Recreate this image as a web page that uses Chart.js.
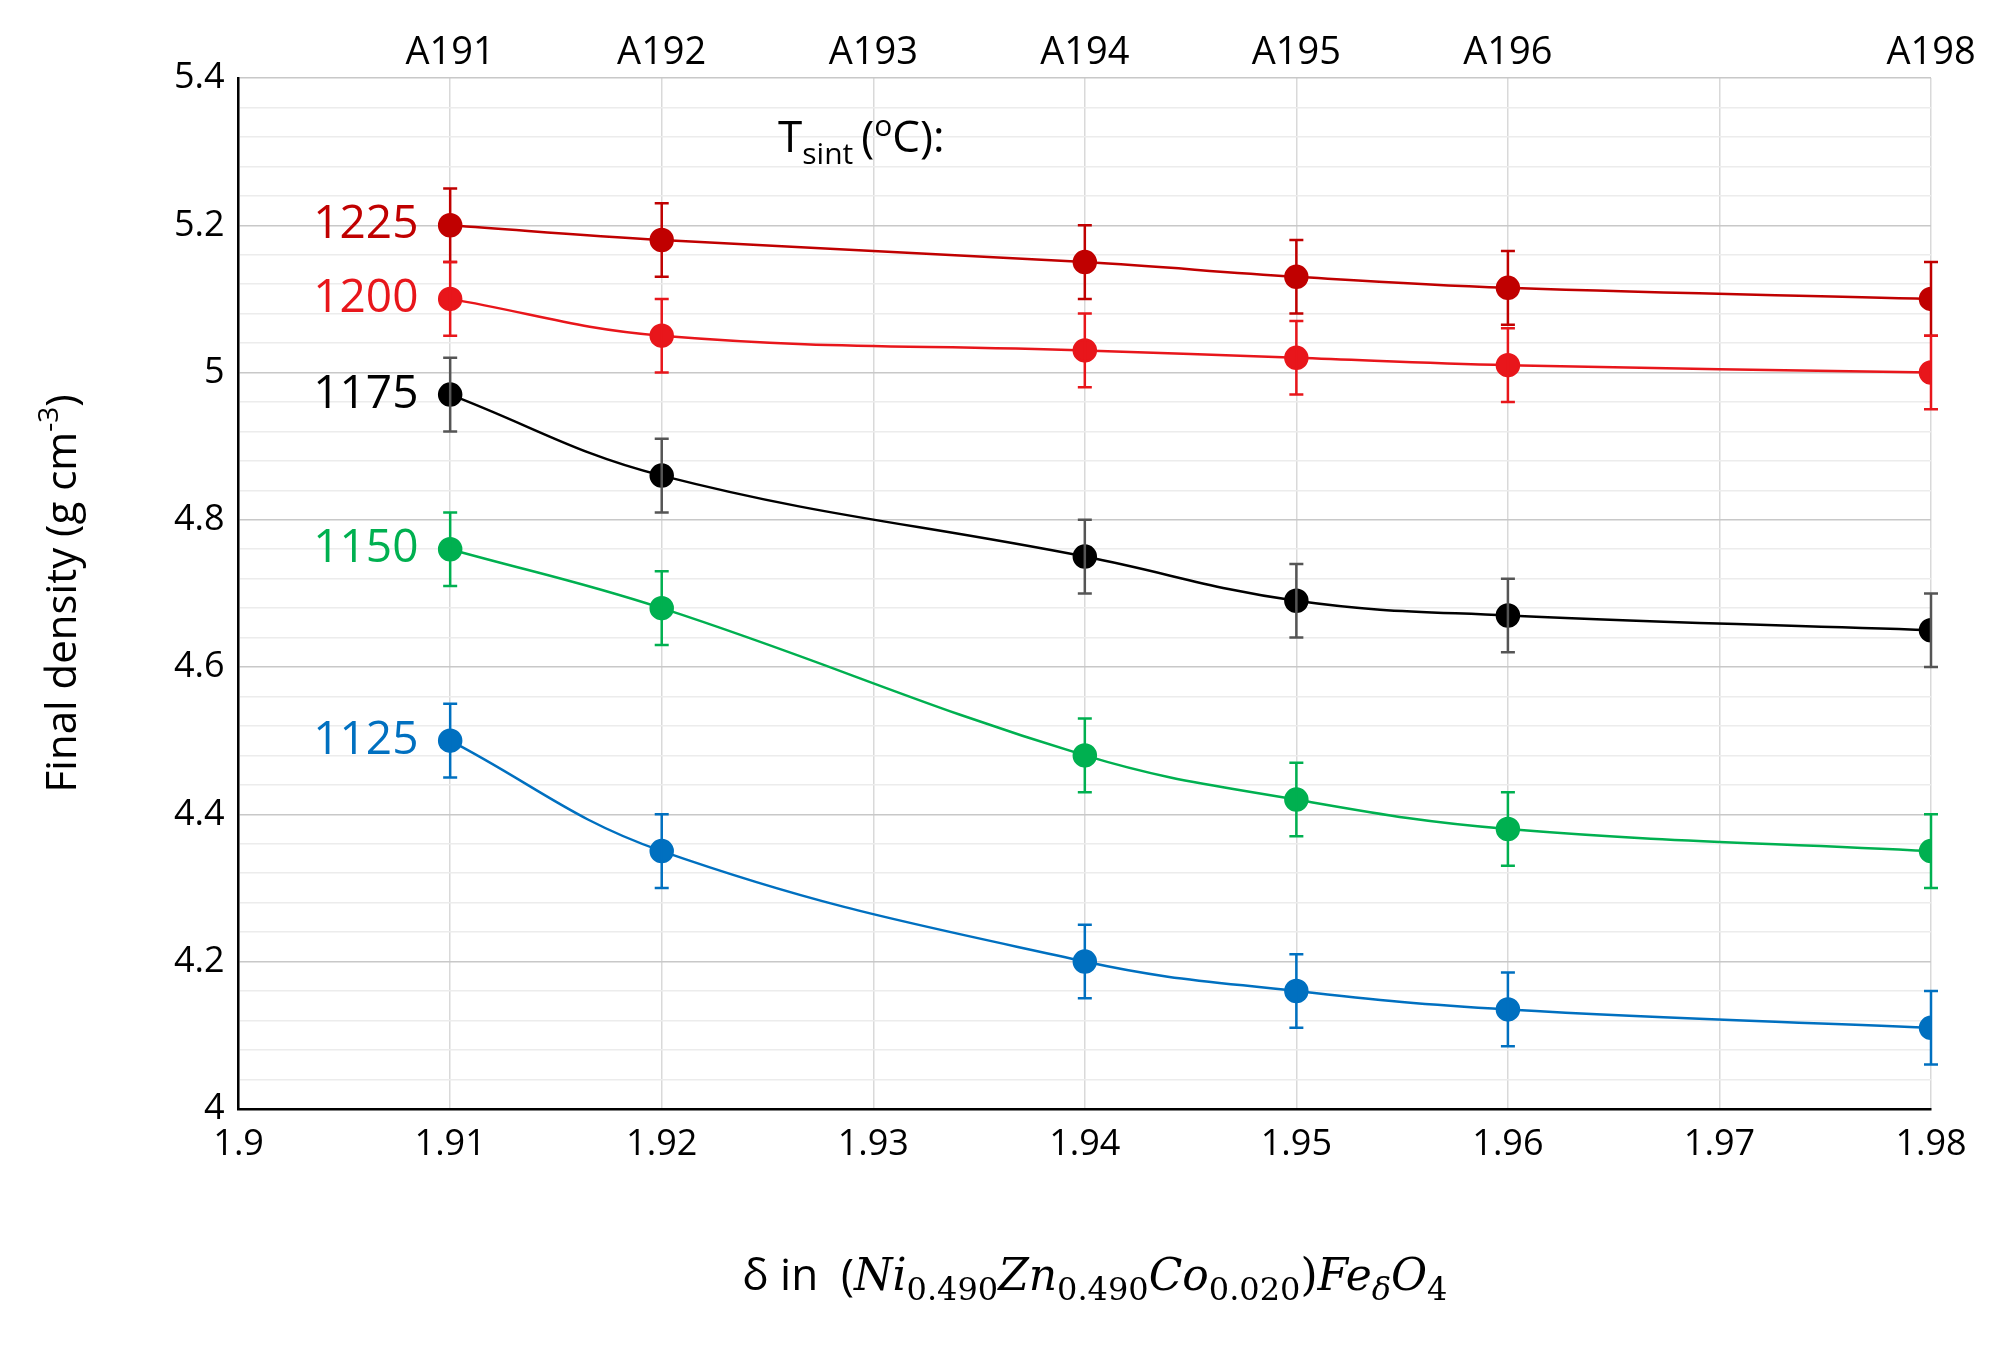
<!DOCTYPE html>
<html><head><meta charset="utf-8">
<script src="https://cdn.jsdelivr.net/npm/chart.js@4"></script>
<style>body{margin:0;background:#fff}canvas{display:block}</style>
</head><body><canvas id="c" width="2004" height="1350"></canvas>
<script>
const deltas=[1.91,1.92,1.94,1.95,1.96,1.98];
const temps=['1225','1200','1175','1150','1125'];
const d1225=[5.20,5.18,5.15,5.13,5.115,5.10];
const d1200=[5.10,5.05,5.03,5.02,5.01,5.00];
const d1175=[4.97,4.86,4.75,4.69,4.67,4.65];
const d1150=[4.76,4.68,4.48,4.42,4.38,4.35];
const d1125=[4.50,4.35,4.20,4.16,4.135,4.11];
const errs=[0.05,0.05,0.05,0.05,0.05,0.05];
const topX=[1.91,1.92,1.93,1.94,1.95,1.96,1.98];
const topLabels=['A191','A192','A193','A194','A195','A196','A198'];
const colors=['#C00000','#E8161B','#000000','#00B050','#0070C0'];
const series=[d1225,d1200,d1175,d1150,d1125];
const F='"Open Sans", "Noto Sans", sans-serif';
const datasets=series.map((s,i)=>({label:temps[i],data:deltas.map((x,j)=>({x,y:s[j]})),borderColor:colors[i],backgroundColor:colors[i],borderWidth:2.5,pointRadius:11,pointHoverRadius:11,tension:0.4}));
const extras={id:'extras',afterDatasetsDraw(ch){
 const c=ch.ctx,xs=ch.scales.x,ys=ch.scales.y;
 c.save();
 series.forEach((s,i)=>{c.strokeStyle=i==2?'#555':colors[i];c.lineWidth=2.5;
  deltas.forEach((x,j)=>{const px=xs.getPixelForValue(x),a=ys.getPixelForValue(s[j]+errs[j]),b=ys.getPixelForValue(s[j]-errs[j]);
   c.beginPath();c.moveTo(px,a);c.lineTo(px,b);c.moveTo(px-7,a);c.lineTo(px+7,a);c.moveTo(px-7,b);c.lineTo(px+7,b);c.stroke();});});
 c.font='46px '+F;c.textAlign='right';c.textBaseline='middle';
 const ly=[5.2,5.1,4.97,4.76,4.5];
 series.forEach((s,i)=>{c.fillStyle=colors[i];c.fillText(temps[i],xs.getPixelForValue(1.9085),ys.getPixelForValue(ly[i]));});
 c.fillStyle='#000';c.font='38px '+F;c.textAlign='center';c.textBaseline='alphabetic';
 topX.forEach((x,i)=>c.fillText(topLabels[i],xs.getPixelForValue(x),ch.chartArea.top-14));
 let x0=xs.getPixelForValue(1.9255),y0=ys.getPixelForValue(5.3);
 c.textAlign='left';c.font='44px '+F;c.fillText('T',x0,y0);let w=c.measureText('T').width;
 c.font='30px '+F;c.fillText('sint',x0+w,y0+12);w+=c.measureText('sint').width+8;
 c.font='44px '+F;c.fillText('(',x0+w,y0);w+=c.measureText('(').width;
 c.font='30px '+F;c.fillText('o',x0+w,y0-16);w+=c.measureText('o').width;
 c.font='44px '+F;c.fillText('C):',x0+w,y0);
 const cx=ch.chartArea.left+(ch.chartArea.right-ch.chartArea.left)*0.5,ty=1290;
 const parts=[['δ in  (',false,'norm'],['Ni',true,'norm'],['0.490',false,'sub'],['Zn',true,'norm'],['0.490',false,'sub'],['Co',true,'norm'],['0.020',false,'sub'],[')',false,'norm'],['Fe',true,'norm'],['δ',true,'sub'],['O',true,'norm'],['4',false,'sub']];
 const fnt=p=>(p[1]?'italic ':'')+(p[2]=='sub'?'32px ':'44px ')+(p[0].startsWith('δ in')?F:'"DejaVu Serif", serif');
 let tw=0;parts.forEach(p=>{c.font=fnt(p);tw+=c.measureText(p[0]).width;});
 let px=cx-tw/2+10;parts.forEach(p=>{c.font=fnt(p);c.fillText(p[0],px,p[2]=='sub'?ty+10:ty);px+=c.measureText(p[0]).width;});
 c.translate(62,(ch.chartArea.top+ch.chartArea.bottom)/2);c.rotate(-Math.PI/2);
 const t1='Final density (g cm',t3=')';c.font='42px '+F;const w1=c.measureText(t1).width;c.font='28px '+F;const w2=c.measureText('-3').width;c.font='42px '+F;const w3=c.measureText(t3).width;
 let sx=-(w1+w2+w3)/2;c.textAlign='left';c.fillText(t1,sx,14);c.font='28px '+F;c.fillText('-3',sx+w1,-4);c.font='42px '+F;c.fillText(t3,sx+w1+w2,14);
 c.restore();}};
new Chart(document.getElementById('c'),{type:'line',data:{datasets},plugins:[extras],
options:{responsive:false,devicePixelRatio:1,animation:false,
 layout:{padding:{left:160,top:78,right:73,bottom:170}},
 plugins:{legend:{display:false},tooltip:{enabled:false}},
 scales:{
  x:{type:'linear',min:1.9,max:1.98,border:{color:'#000',width:2.5},
   ticks:{stepSize:0.01,font:{size:36,family:F},color:'#000',padding:14,callback:v=>v.toFixed(2).replace(/0$/,'').replace(/\.?0$/,'')},
   grid:{color:'#d9d9d9',lineWidth:1.5,drawTicks:false}},
  y:{min:4,max:5.4,border:{color:'#000',width:2.5},
   ticks:{stepSize:0.04,autoSkip:false,font:{size:36,family:F},color:'#000',padding:14,callback:v=>{const r=Math.round(v*100);return r%20===0?String(r/100):'';}},
   grid:{color:ctx=>Math.round(ctx.tick.value*100)%20===0?'#c8c8c8':'#ececec',lineWidth:1.5,drawTicks:false}}}}});
</script></body></html>
